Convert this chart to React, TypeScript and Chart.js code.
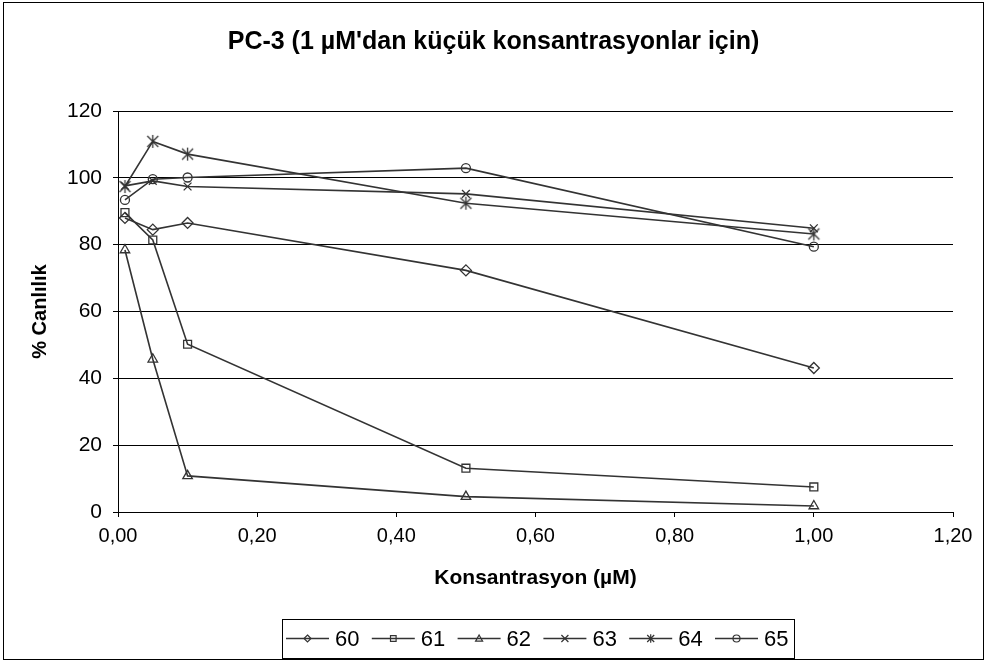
import React, { useEffect, useRef } from 'react';
import { Chart, registerables } from 'chart.js';

Chart.register(...registerables);

const concentrations = [0.01, 0.05, 0.1, 0.5, 1.0];
const series60 = [88.0, 84.5, 86.5, 72.3, 43.1];
const series61 = [89.6, 81.4, 50.2, 13.1, 7.5];
const series62 = [78.4, 45.7, 10.8, 4.6, 1.8];
const series63 = [97.6, 99.1, 97.4, 95.2, 84.9];
const series64 = [97.4, 110.9, 107.1, 92.4, 83.2];
const series65 = [93.4, 99.6, 100.1, 102.9, 79.4];
const seriesLabels = ['60', '61', '62', '63', '64', '65'];
const seriesValues = [series60, series61, series62, series63, series64, series65];
const markerKinds = ['diamond', 'square', 'triangle', 'x', 'asterisk', 'circle'];

const chartTitle = "PC-3 (1 \u00b5M'dan k\u00fc\u00e7\u00fck konsantrasyonlar i\u00e7in)";
const xTitle = 'Konsantrasyon (\u00b5M)';
const yTitle = '% Canl\u0131l\u0131k';

const LINE = '#333333';
const SANS = '"Liberation Sans", Arial, sans-serif';

function drawMarker(ctx: CanvasRenderingContext2D, kind: string, x: number, y: number, r: number) {
  ctx.beginPath();
  switch (kind) {
    case 'diamond':
      ctx.moveTo(x, y - r); ctx.lineTo(x + r, y); ctx.lineTo(x, y + r); ctx.lineTo(x - r, y); ctx.closePath();
      break;
    case 'square':
      ctx.rect(x - r * 0.8, y - r * 0.8, r * 1.6, r * 1.6);
      break;
    case 'triangle':
      ctx.moveTo(x, y - r); ctx.lineTo(x + r, y + r * 0.75); ctx.lineTo(x - r, y + r * 0.75); ctx.closePath();
      break;
    case 'x':
      ctx.moveTo(x - r, y - r); ctx.lineTo(x + r, y + r); ctx.moveTo(x + r, y - r); ctx.lineTo(x - r, y + r);
      break;
    case 'asterisk':
      ctx.moveTo(x - r, y - r); ctx.lineTo(x + r, y + r); ctx.moveTo(x + r, y - r); ctx.lineTo(x - r, y + r);
      ctx.moveTo(x, y - r * 1.2); ctx.lineTo(x, y + r * 1.2);
      break;
    case 'circle':
      ctx.arc(x, y, r, 0, Math.PI * 2);
      break;
  }
  ctx.stroke();
}

function markerImage(kind: string, r: number): HTMLCanvasElement {
  const size = Math.ceil(r * 2 + 6);
  const c = document.createElement('canvas');
  c.width = size; c.height = size;
  const ctx = c.getContext('2d')!;
  ctx.strokeStyle = LINE;
  ctx.lineWidth = 1.3;
  drawMarker(ctx, kind, size / 2, size / 2, r);
  return c;
}

const frameAndLegend = {
  id: 'frameAndLegend',
  beforeDraw(chart: any) {
    const ctx = chart.ctx as CanvasRenderingContext2D;
    ctx.save();
    ctx.fillStyle = '#ffffff';
    ctx.fillRect(0, 0, chart.width, chart.height);
    ctx.strokeStyle = '#000000';
    ctx.lineWidth = 1;
    ctx.strokeRect(3.5, 2.5, chart.width - 7, chart.height - 5);
    ctx.restore();
  },
  afterDraw(chart: any) {
    const ctx = chart.ctx as CanvasRenderingContext2D;
    ctx.save();
    const boxLeft = 282, boxRight = 794, boxTop = 619, boxBottom = 658;
    ctx.strokeStyle = '#000000';
    ctx.lineWidth = 1;
    ctx.strokeRect(boxLeft + 0.5, boxTop + 0.5, boxRight - boxLeft, boxBottom - boxTop);
    const cy = (boxTop + boxBottom) / 2;
    ctx.font = '22px ' + SANS;
    ctx.textBaseline = 'middle';
    ctx.textAlign = 'left';
    seriesLabels.forEach((label, i) => {
      const tx = 335 + 85.8 * i;
      ctx.strokeStyle = LINE;
      ctx.lineWidth = 1.5;
      ctx.beginPath();
      ctx.moveTo(tx - 49, cy);
      ctx.lineTo(tx - 6, cy);
      ctx.stroke();
      ctx.lineWidth = 1.2;
      drawMarker(ctx, markerKinds[i], tx - 27.5, cy, 3.5);
      ctx.fillStyle = '#000000';
      ctx.fillText(label, tx, cy + 1);
    });
    ctx.restore();
  },
};

export default function App() {
  const ref = useRef<HTMLCanvasElement | null>(null);
  useEffect(() => {
    if (!ref.current) return;
    const styleFor = (kind: string): any => {
      if (kind === 'diamond') return 'rectRot';
      if (kind === 'square') return 'rect';
      if (kind === 'triangle') return 'triangle';
      if (kind === 'x') return 'crossRot';
      if (kind === 'circle') return 'circle';
      return markerImage('asterisk', 5.5);
    };
    const radiusFor = (kind: string) => {
      if (kind === 'diamond') return 5.5;
      if (kind === 'square') return 5.6;
      if (kind === 'triangle') return 5.5;
      if (kind === 'x') return 5.5;
      if (kind === 'circle') return 4.5;
      return 6;
    };
    const datasets = seriesLabels.map((label, i) => ({
      label,
      data: concentrations.map((c, j) => ({ x: c, y: seriesValues[i][j] })),
      borderColor: LINE,
      borderWidth: 1.6,
      backgroundColor: 'rgba(0,0,0,0)',
      pointStyle: styleFor(markerKinds[i]),
      pointRadius: radiusFor(markerKinds[i]),
      pointBorderColor: LINE,
      pointBackgroundColor: 'rgba(0,0,0,0)',
      pointBorderWidth: 1.3,
      tension: 0,
      fill: false,
    }));
    const titleFont = 25;
    const titleLH = titleFont * 1.2;
    const xTitleFont = 21;
    const xScaleH = Math.round(578 + (xTitleFont * 1.2) / 2 - 512);
    const chart = new Chart(ref.current, {
      type: 'line',
      data: { datasets },
      plugins: [frameAndLegend],
      options: {
        animation: false,
        responsive: false,
        devicePixelRatio: 1,
        layout: { padding: { left: 0, right: 0, top: 0, bottom: 662 - 512 - xScaleH } },
        plugins: {
          legend: { display: false },
          tooltip: { enabled: false },
          title: {
            display: true,
            text: chartTitle,
            color: '#000000',
            font: { family: SANS, size: titleFont, weight: 'bold' },
            padding: { top: 42 - titleLH / 2, bottom: 111 - 42 - titleLH / 2 },
          },
        },
        scales: {
          x: {
            type: 'linear',
            min: 0,
            max: 1.2,
            afterFit: (s: any) => { s.height = xScaleH; s.paddingRight = 34; },
            ticks: {
              stepSize: 0.2,
              color: '#000000',
              padding: 7,
              font: { family: SANS, size: 20 },
              maxRotation: 0,
              callback: (v: any) => Number(v).toFixed(2).replace('.', ','),
            },
            grid: { drawOnChartArea: false, drawTicks: true, tickLength: 5, color: '#000000' },
            border: { color: '#000000', width: 1 },
            title: {
              display: true,
              text: xTitle,
              color: '#000000',
              font: { family: SANS, size: xTitleFont, weight: 'bold' },
              padding: { top: 0, bottom: 0 },
            },
          },
          y: {
            min: 0,
            max: 120,
            afterFit: (s: any) => { s.width = 118; },
            ticks: {
              stepSize: 20,
              color: '#000000',
              padding: 11,
              font: { family: SANS, size: 21 },
            },
            grid: { color: '#000000', tickLength: 5, lineWidth: 1 },
            border: { color: '#000000', width: 1 },
            title: {
              display: true,
              text: yTitle,
              color: '#000000',
              font: { family: SANS, size: 20, weight: 'bold' },
              padding: { top: 28, bottom: 0 },
            },
          },
        },
      },
    });
    return () => chart.destroy();
  }, []);
  return (
    <div style={{ position: 'absolute', left: 0, top: 0, width: 987, height: 662 }}>
      <canvas ref={ref} width={987} height={662} style={{ display: 'block' }} />
    </div>
  );
}
